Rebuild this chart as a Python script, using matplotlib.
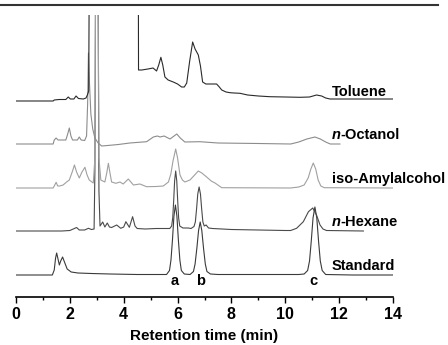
import matplotlib
matplotlib.use("Agg")
import matplotlib.pyplot as plt
from matplotlib.lines import Line2D

plt.rcParams['font.family'] = ['Liberation Sans', 'DejaVu Sans']
plt.rcParams['font.weight'] = 'bold'

# Chromatogram traces: retention time (min) and signal height
# (height in pixel-like units above each trace's own baseline)
std_t = [0, 1.35, 1.42, 1.47, 1.51, 1.56, 1.61, 1.66, 1.73, 1.8, 1.9, 2.05, 2.3, 2.8, 3.5, 4.5,
         5.59, 5.7, 5.755, 5.81, 5.865, 5.92, 5.975, 6.03, 6.085, 6.14, 6.25,
         6.465, 6.59, 6.65, 6.715, 6.78, 6.84, 6.9, 6.965, 7.03, 7.09, 7.22, 7.5,
         10.5, 10.7, 10.83, 10.9, 10.965, 11.03, 11.1, 11.17, 11.235, 11.3, 11.37, 11.5, 12.5, 14]
std_h = [0, 0, 5, 17, 22, 16, 10, 14, 18, 13, 6, 3, 2, 1.5, 1, 0.5,
         0.5, 4.5, 15, 35, 59, 70, 59, 35, 15, 4.5, 1,
         0.5, 3.5, 11, 26.5, 44.5, 53, 44.5, 26.5, 11, 3.5, 1, 0.5,
         0.5, 1, 4.5, 14, 34, 57, 68, 57, 34, 14, 4.5, 0.5, 0, 0]

hex_t = [0, 1.7, 2.0, 2.25, 2.35, 2.55, 2.69, 2.8, 2.9, 2.93, 2.96, 3.04, 3.08, 3.12,
         3.22, 3.3, 3.39, 3.47, 3.55, 3.74, 3.89, 4.0, 4.08, 4.21, 4.33, 4.42, 4.5, 4.8, 5.2,
         5.5, 5.71, 5.78, 5.82, 5.855, 5.89, 5.93, 5.97, 6.005, 6.04, 6.08, 6.2, 6.4,
         6.5, 6.61, 6.66, 6.705, 6.75, 6.8, 6.85, 6.895, 6.94, 6.99, 7.06, 7.15, 7.3, 8, 10,
         10.2, 10.42, 10.67, 10.86, 11.02, 11.16, 11.29, 11.4, 11.53, 12.9]
hex_h = [0, 0, 0.5, 3.5, 1, 1, 2.7, 1.5, 2, 60, 300, 300, 40, 5,
         9, 4, 8, 4, 3.5, 6, 2.7, 4, 9.3, 3.7, 14.3, 5, 2.5, 2, 2.5,
         2.5, 2.5, 5, 13, 30, 50, 60, 50, 30, 13, 5, 3, 3,
         2.5, 4.5, 9, 22, 37, 44, 37, 22, 9, 5, 6, 3, 2.5, 1.5, 0.5,
         0.5, 2.7, 9.3, 19.3, 23, 16, 6, 2, 0.5, 0]

iso_t = [0, 1.38, 1.44, 1.49, 1.55, 1.62, 1.75, 1.88, 1.98, 2.1, 2.17, 2.25, 2.35, 2.45,
         2.56, 2.64, 2.72, 2.87, 2.93, 2.97, 3.03, 3.08, 3.15, 3.3, 3.37, 3.43, 3.49, 3.55,
         3.71, 3.86, 3.98, 4.17, 4.36, 4.6, 4.85, 5.2, 5.47, 5.66, 5.75, 5.83, 5.93, 6.0,
         6.09, 6.18, 6.27, 6.46, 6.6, 6.77, 6.9, 7.08, 7.25, 7.39, 7.64, 10.2, 10.5, 10.7,
         10.85, 10.95, 11.04, 11.13, 11.22, 11.32, 11.45, 14]
iso_h = [0, 0, 3, 5.7, 2, 2, 3, 6, 8, 17, 23, 16, 10, 16,
         20.7, 13, 8, 5, 30, 300, 300, 30, 8, 6, 15, 24.7, 15, 6,
         4.7, 6, 4, 9, 3, 4, 1.3, 1.5, 2, 6, 14, 27, 39, 30,
         13, 8, 6, 8, 12, 17, 15, 11, 7, 5, 0.3, 0, 1, 3,
         10, 19, 25, 19, 8, 2, 0.3, 0]

oct_t = [0, 1.38, 1.42, 1.49, 1.56, 1.85, 1.92, 1.98, 2.04, 2.1, 2.28, 2.35, 2.42, 2.55,
         2.62, 2.66, 2.69, 2.73, 2.78, 2.85, 2.93, 3.05, 3.18, 3.4, 3.8, 4.23, 4.85, 5.1,
         5.25, 5.35, 5.5, 5.72, 5.97, 6.1, 6.27, 6.83, 7.5, 9, 10.2, 10.5, 10.8, 11.1, 11.3,
         11.5, 11.67, 12.03]
oct_h = [0, 0, 4, 6, 4, 4, 10, 16, 8, 4, 4, 7, 4, 3.5,
         8, 40, 91, 60, 30, 15, 6, 1, -2, -1.5, -0.5, 1, 2.3, 7,
         8, 7, 8, 5, 10, 6, 2, 2.3, 1, 0.5, 0, 2, 5, 7, 5,
         2, 0, 0]

tol_t = [0, 1.38, 1.42, 1.6, 1.85, 1.94, 2.02, 2.15, 2.23, 2.32, 2.5, 2.6, 2.65, 2.7, 2.75,
         4.53, 4.55, 4.67, 4.9, 5.09, 5.22, 5.3, 5.38, 5.45, 5.53, 5.65, 5.84, 6.0, 6.15,
         6.25, 6.34, 6.45, 6.56, 6.65, 6.77, 6.85, 6.93, 7.05, 7.2, 7.45, 7.55, 7.64, 7.8,
         7.95, 8.1, 8.32, 8.6, 9.0, 9.43, 10.0, 10.55, 10.9, 11.16, 11.35, 11.5, 11.66, 14]
tol_h = [0, 0, 1, 1.5, 1.5, 4, 2, 2, 5, 2.5, 2, 3, 6, 10, 300,
         300, 31, 31, 32, 33, 30, 36, 43.7, 36, 24, 21, 19, 17, 14,
         14, 18, 40, 59, 52, 46, 35, 19, 17, 17, 17, 14, 11, 9,
         8.3, 8, 7.7, 6, 5, 4.3, 4, 3.7, 4, 6, 5, 3, 2, 2]

names = ["Standard", "n-Hexane", "iso-Amylalcohol", "n-Octanol", "Toluene"]
times = [std_t, hex_t, iso_t, oct_t, tol_t]
heights = [std_h, hex_h, iso_h, oct_h, tol_h]

# stacking offsets and line colours
offsets = [22, 66, 109, 153, 196]
colors = ['#3a3a3a', '#4a4a4a', '#a0a0a0', '#8c8c8c', '#2a2a2a']

peak_letters = ['a', 'b', 'c']
peak_times = [5.9, 6.87, 11.03]

fig = plt.figure(figsize=(4.48, 3.45), dpi=100)
ax = fig.add_axes([16 / 448, 48 / 345, 377 / 448, 282 / 345])

for t, h, off, c in zip(times, heights, offsets, colors):
    ax.plot(t, [v + off for v in h], color=c, lw=0.8)

# trace labels on the right; "n" in italics
lab_size = 10.5
for name, off in zip(names, offsets):
    if name.startswith('n-'):
        t1 = ax.text(11.72, off + 5, 'n', fontsize=lab_size, fontweight='bold', style='italic',
                     va='baseline', ha='left', clip_on=False)
        ax.annotate(name[1:], xy=(1, 0), xycoords=t1, va='bottom', ha='left',
                    fontsize=lab_size, fontweight='bold', annotation_clip=False)
    else:
        ax.text(11.72, off + 5, name, fontsize=lab_size, fontweight='bold',
                va='baseline', ha='left', clip_on=False)

for lab, pt in zip(peak_letters, peak_times):
    ax.text(pt, 12, lab, fontsize=10.5, fontweight='bold', ha='center', va='baseline')

ax.set_xlim(0, 14)
ax.set_ylim(0, 282)
ax.set_xticks(range(0, 15, 2))
ax.set_xticks(range(1, 14, 2), minor=True)
ax.set_yticks([])
for s in ['left', 'right', 'top']:
    ax.spines[s].set_visible(False)
ax.spines['bottom'].set_linewidth(1.2)
ax.tick_params(axis='x', which='major', length=4, width=1, pad=3, labelsize=11.5)
ax.tick_params(axis='x', which='minor', length=2.5, width=1)
for lbl in ax.get_xticklabels():
    lbl.set_fontweight('bold')
ax.set_xlabel("Retention time (min)", fontsize=11, fontweight='bold', labelpad=5)

# thin rule across the top of the figure
fig.add_artist(Line2D([0, 438 / 448], [1 - 5 / 345, 1 - 5 / 345], color='#333333', lw=1.5))

fig.savefig("out.png", dpi=100)
